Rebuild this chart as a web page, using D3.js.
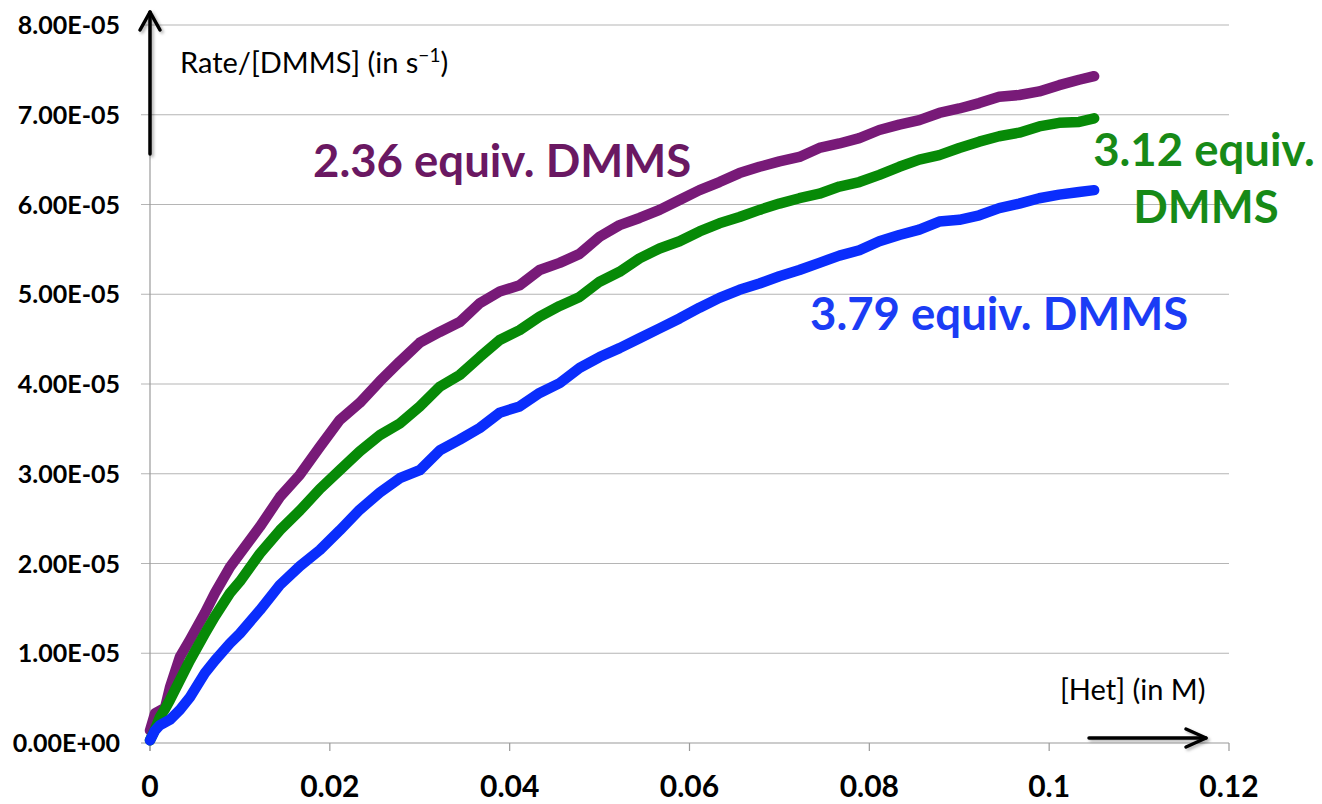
<!DOCTYPE html>
<html>
<head>
<meta charset="utf-8">
<script src="https://cdn.jsdelivr.net/npm/d3@7"></script>
<style>
  body { margin: 0; background: #fff; }
  svg { display: block; font-family: Lato, 'Open Sans', sans-serif; }
</style>
</head>
<body>
<svg width="1322" height="804"></svg>
<script>
// [Het] in M
const hetConc = [0, 0.00056, 0.00111, 0.00167, 0.00222, 0.00333, 0.00444, 0.00611, 0.00722, 0.00889,
                 0.01, 0.01222, 0.01444, 0.01667, 0.01889, 0.02111, 0.02333, 0.02556, 0.02778, 0.03,
                 0.03222, 0.03444, 0.03667, 0.03889, 0.04111, 0.04333, 0.04556, 0.04778, 0.05, 0.05222,
                 0.05444, 0.05667, 0.05889, 0.06111, 0.06333, 0.06556, 0.06778, 0.07, 0.07222, 0.07444,
                 0.07667, 0.07889, 0.08111, 0.08333, 0.08556, 0.08778, 0.09, 0.09222, 0.09444, 0.09667,
                 0.09889, 0.10111, 0.10333, 0.105];
// Rate/[DMMS], in units of 1e-5 s^-1
const rate236 = [0.14, 0.33, 0.36, 0.39, 0.62, 0.96, 1.15, 1.45, 1.67, 1.96,
                 2.11, 2.41, 2.74, 2.99, 3.30, 3.60, 3.79, 4.03, 4.25, 4.46,
                 4.58, 4.69, 4.90, 5.03, 5.10, 5.27, 5.35, 5.45, 5.64, 5.77,
                 5.85, 5.94, 6.05, 6.16, 6.25, 6.35, 6.42, 6.48, 6.53, 6.63,
                 6.68, 6.74, 6.83, 6.89, 6.94, 7.02, 7.07, 7.13, 7.20, 7.22,
                 7.26, 7.33, 7.39, 7.43];
const rate312 = [0.03, 0.15, 0.29, 0.38, 0.48, 0.70, 0.92, 1.22, 1.41, 1.67,
                 1.80, 2.11, 2.37, 2.59, 2.83, 3.04, 3.25, 3.43, 3.56, 3.75,
                 3.97, 4.10, 4.30, 4.49, 4.60, 4.75, 4.87, 4.97, 5.14, 5.25,
                 5.40, 5.51, 5.59, 5.70, 5.79, 5.86, 5.94, 6.01, 6.07, 6.12,
                 6.20, 6.25, 6.33, 6.42, 6.50, 6.55, 6.63, 6.70, 6.76, 6.80,
                 6.87, 6.91, 6.92, 6.96];
const rate379 = [0.03, 0.14, 0.20, 0.23, 0.26, 0.37, 0.51, 0.78, 0.92, 1.11,
                 1.22, 1.48, 1.76, 1.97, 2.15, 2.37, 2.60, 2.79, 2.95, 3.04,
                 3.26, 3.38, 3.51, 3.68, 3.75, 3.90, 4.01, 4.18, 4.30, 4.40,
                 4.51, 4.62, 4.73, 4.85, 4.96, 5.05, 5.12, 5.20, 5.27, 5.35,
                 5.43, 5.49, 5.59, 5.66, 5.72, 5.81, 5.83, 5.88, 5.96, 6.01,
                 6.07, 6.11, 6.14, 6.16];

const xTicks = [0, 0.02, 0.04, 0.06, 0.08, 0.1, 0.12];
const xTickLabels = ['0', '0.02', '0.04', '0.06', '0.08', '0.1', '0.12'];
const yTicks = [0, 1e-5, 2e-5, 3e-5, 4e-5, 5e-5, 6e-5, 7e-5, 8e-5];
const yTickLabels = ['0.00E+00', '1.00E-05', '2.00E-05', '3.00E-05', '4.00E-05',
                     '5.00E-05', '6.00E-05', '7.00E-05', '8.00E-05'];

const series = [
  { name: '2.36 equiv. DMMS', values: rate236, color: '#781a78' },
  { name: '3.12 equiv. DMMS', values: rate312, color: '#078a07' },
  { name: '3.79 equiv. DMMS', values: rate379, color: '#0a2dfc' }
];

const svg = d3.select('svg');

const x = d3.scaleLinear().domain([0, 0.12]).range([150, 1229]);
const y = d3.scaleLinear().domain([0, 8e-5]).range([743, 25]);

const defs = svg.append('defs');
defs.append('filter').attr('id', 'shadow')
    .attr('x', '-20%').attr('y', '-20%').attr('width', '140%').attr('height', '140%')
  .append('feDropShadow')
    .attr('dx', 2).attr('dy', 2).attr('stdDeviation', 1.5)
    .attr('flood-color', '#000').attr('flood-opacity', 0.3);

// gridlines
svg.append('g').selectAll('line').data(yTicks.slice(1))
  .enter().append('line')
    .attr('x1', 141).attr('x2', x(0.12))
    .attr('y1', d => y(d)).attr('y2', d => y(d))
    .attr('stroke', '#b5b5b5').attr('stroke-width', 1.2);

// axis lines
svg.append('line')
    .attr('x1', x(0)).attr('x2', x(0)).attr('y1', y(8e-5)).attr('y2', y(0) + 8)
    .attr('stroke', '#9a9a9a').attr('stroke-width', 1.2);
svg.append('line')
    .attr('x1', 141).attr('x2', x(0.12)).attr('y1', y(0)).attr('y2', y(0))
    .attr('stroke', '#9a9a9a').attr('stroke-width', 1.2);

svg.append('g').selectAll('line').data(xTicks)
  .enter().append('line')
    .attr('x1', d => x(d)).attr('x2', d => x(d))
    .attr('y1', y(0)).attr('y2', y(0) + 8)
    .attr('stroke', '#9a9a9a').attr('stroke-width', 1.2);

// tick labels
svg.append('g').selectAll('text').data(yTicks)
  .enter().append('text')
    .attr('x', 120)
    .attr('y', d => y(d) + 9)
    .attr('text-anchor', 'end')
    .style('font-size', '25px').style('font-weight', 'bold')
    .text((d, i) => yTickLabels[i]);

svg.append('g').selectAll('text').data(xTicks)
  .enter().append('text')
    .attr('x', d => x(d))
    .attr('y', 797)
    .attr('text-anchor', 'middle')
    .style('font-size', '30px').style('font-weight', 'bold')
    .text((d, i) => xTickLabels[i]);

// curves
const line = d3.line()
    .x((d, i) => x(hetConc[i]))
    .y(d => y(d * 1e-5));

svg.append('g').selectAll('path').data(series)
  .enter().append('path')
    .attr('d', d => line(d.values))
    .attr('fill', 'none')
    .attr('stroke', d => d.color)
    .attr('stroke-width', 10.5)
    .attr('stroke-linejoin', 'round')
    .attr('stroke-linecap', 'round');

// arrows
const arrows = svg.append('g').attr('filter', 'url(#shadow)')
    .attr('stroke', '#000').attr('stroke-width', 3.5).attr('fill', 'none')
    .attr('stroke-linecap', 'round').attr('stroke-linejoin', 'round');
arrows.append('line').attr('x1', 150).attr('x2', 150).attr('y1', 154).attr('y2', 12);
arrows.append('polyline').attr('points', '140,30 150,12 160,30');
arrows.append('line').attr('x1', 1089).attr('x2', 1206).attr('y1', 738).attr('y2', 738);
arrows.append('polyline').attr('points', '1186,729 1206,738 1186,747');

// axis titles
const yTitle = svg.append('text').attr('x', 180).attr('y', 73)
    .style('font-size', '29px');
yTitle.append('tspan').text('Rate/[DMMS] (in s');
yTitle.append('tspan').attr('dy', -11).style('font-size', '19px').text('\u22121');
yTitle.append('tspan').attr('dy', 11).text(')');

svg.append('text').attr('x', 1060).attr('y', 700)
    .style('font-size', '29px')
    .text('[Het] (in M)');

// series labels
const labelStyle = sel => sel.style('font-size', '45.5px').style('font-weight', 'bold');
svg.append('text').attr('x', 313).attr('y', 177)
    .attr('fill', '#6a1862').call(labelStyle)
    .text('2.36 equiv. DMMS');
svg.append('text').attr('x', 1204).attr('y', 166)
    .attr('text-anchor', 'middle')
    .attr('fill', '#178a17').call(labelStyle)
    .text('3.12 equiv.');
svg.append('text').attr('x', 1206).attr('y', 223)
    .attr('text-anchor', 'middle')
    .attr('fill', '#178a17').call(labelStyle)
    .text('DMMS');
svg.append('text').attr('x', 810).attr('y', 330)
    .attr('fill', '#1b3cf5').call(labelStyle)
    .text('3.79 equiv. DMMS');
</script>
</body>
</html>
